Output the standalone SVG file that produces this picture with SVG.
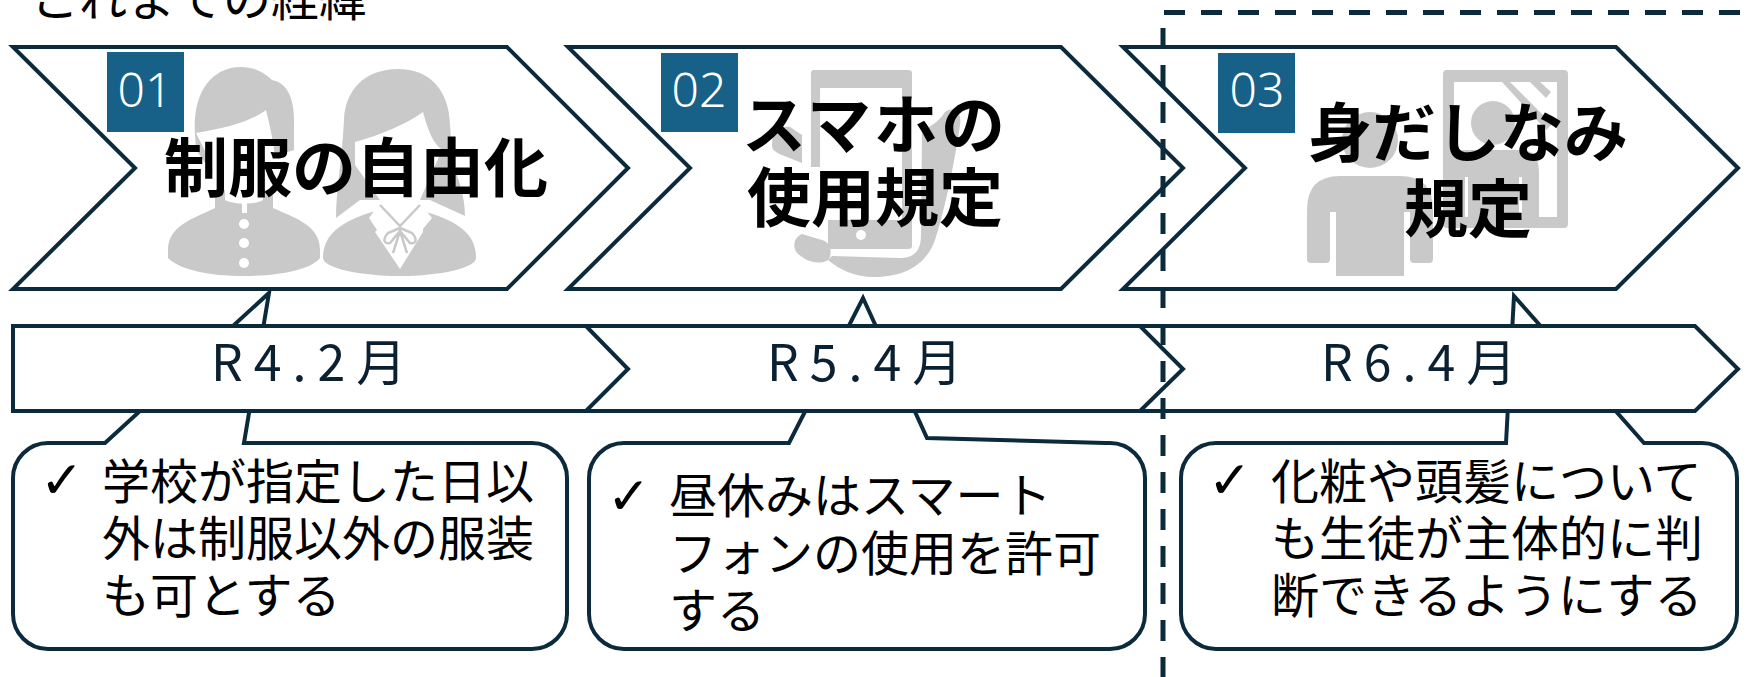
<svg xmlns="http://www.w3.org/2000/svg" width="1747" height="677" viewBox="0 0 1747 677">
<style>
.ln{fill:#fff;stroke:#0b2b3d;stroke-width:4;stroke-linejoin:miter}
.ic{fill:#c9c9c9}
.wh{fill:#fff}
.bd{fill:#176087}
.no{font-family:"Noto Sans","Liberation Sans",sans-serif;font-size:48px;fill:#fff;text-anchor:middle;font-weight:300}
.ti{font-family:"Noto Sans CJK JP",sans-serif;font-size:64px;font-weight:700;fill:#000;text-anchor:middle}
.br{font-family:"Noto Sans CJK JP",sans-serif;font-size:50px;fill:#0b2030;letter-spacing:11px}
.tx{font-family:"Noto Sans CJK JP",sans-serif;font-size:48px;fill:#000}
.ck{font-family:"DejaVu Sans",sans-serif;font-size:52px;fill:#000}
.hd{font-family:"Noto Sans CJK JP",sans-serif;font-size:48px;fill:#000}
.ds{fill:none;stroke:#0b2b3d;stroke-width:5;stroke-dasharray:21 16}
</style>
<text class="hd" x="31" y="16">これまでの経緯</text>
<g id="step1">
<polygon class="ln" points="13,47 507,47 628,168 507,289 13,289 135,168"/>
<g id="icon1">
<path class="ic" d="M195,135C192,95 210,67 241,67C256,67 266,74 272,80C288,83 295,100 294,125L294,150L214,175L196,150Z"/>
<path class="wh" d="M196,133C225,128 250,122 266,110C272,135 278,160 273,175L274,197L214,197L212,165Z"/>
<path class="ic" d="M215,190L215,208C195,218 168,225 168,250L168,258C180,270 210,276 243,276C280,276 310,270 320,258L320,250C320,225 295,218 273,208L273,190Z"/>
<path class="wh" d="M225,188L225,200C235,205 255,205 263,200L263,188Z"/>
<rect class="wh" x="242" y="203" width="5" height="10"/>
<circle class="wh" cx="244" cy="224" r="5"/><circle class="wh" cx="244" cy="243" r="5"/><circle class="wh" cx="244" cy="263" r="5"/>
<path class="ic" d="M344,120C345,90 365,69 398,69C430,69 449,90 450,125L452,155C455,175 465,190 465,216L430,200L360,200L336,218C336,190 342,160 344,120Z"/>
<path class="wh" d="M355,142C380,135 405,125 423,112C428,130 432,142 442,150L420,200L380,200L355,165Z"/>
<path class="ic" d="M323,258C323,235 340,222 372,212L426,212C460,222 476,235 476,258C476,268 440,276 400,276C360,276 323,268 323,258Z"/>
<path fill="none" stroke="#fff" stroke-width="2.5" d="M337,220C350,212 365,210 376,203M463,218C450,212 435,210 424,203"/>
<path class="wh" d="M380,203L420,203L432,218L423,229L423,232L400,269L375,232L377,230L369,218Z"/>
<path fill="none" stroke="#c9c9c9" stroke-width="2.5" d="M380,205L400,226L420,205M400,228L388,233C382,240 384,244 390,243L400,231L410,243C416,244 418,240 412,233L400,228M400,231L393,253M400,231L407,253"/>
</g>
<rect class="bd" x="107" y="52" width="77" height="80"/>
<text class="no" x="145" y="107">01</text>
<text class="ti" x="356" y="191">制服の自由化</text>
</g>
<g id="step2">
<polygon class="ln" points="568,47 1061,47 1183,168 1061,289 568,289 690,168"/>
<g id="icon2">
<path class="ic" d="M814,70H908Q912,70 912,73V246Q912,249 908,249H828V220H820V167H811V73Q811,70 814,70Z"/>
<rect class="wh" x="820" y="88" width="82" height="132"/>
<path class="ic" d="M772,145C772,130 780,126 790,127L802,135L802,163L782,155C775,152 772,150 772,145Z"/>
<path class="ic" d="M945,112C955,105 962,112 960,125C955,160 945,210 935,240C925,268 900,277 874,277C855,277 840,270 828,260L832,256L900,258C915,258 921,250 921,235L922,130C930,128 940,120 945,112Z"/>
<path class="ic" d="M802,234L825,241C832,246 832,255 828,260C822,264 812,263 805,259L798,254C792,248 793,238 802,234Z"/>
<circle class="wh" cx="861" cy="235" r="5"/>
</g>
<rect class="bd" x="661" y="53" width="77" height="79"/>
<text class="no" x="699" y="107">02</text>
<text class="ti" x="875" y="148" style="letter-spacing:3px">スマホの</text>
<text class="ti" x="875" y="221">使用規定</text>
</g>
<g id="step3">
<polygon class="ln" points="1123,47 1616,47 1738,168 1616,289 1123,289 1245,168"/>
<g id="icon3">
<path class="ic" fill-rule="evenodd" d="M1447,70H1564Q1568,70 1568,74V224Q1568,228 1564,228H1447Q1443,228 1443,224V74Q1443,70 1447,70ZM1454,82V217H1557V82Z"/>
<path class="ic" d="M1502,82H1510L1552,124L1546,130ZM1530,82H1540L1551,92L1546,98Z"/>
<circle class="ic" cx="1493" cy="123" r="22"/>
<path class="ic" d="M1465,150H1521Q1539,150 1539,172V217H1448V172Q1448,150 1465,150Z"/>
<rect class="wh" x="1465" y="177" width="3" height="40"/><rect class="wh" x="1519" y="177" width="3" height="40"/>
<circle class="ic" cx="1370" cy="140" r="28"/>
<path class="wh" d="M1305,174H1436V280H1305Z"/>
<path class="ic" d="M1340,176H1400Q1433,176 1433,210V259Q1433,263 1429,263H1414Q1410,263 1410,259V212H1404V276H1336V212H1330V259Q1330,263 1326,263H1311Q1307,263 1307,259V210Q1307,176 1340,176Z"/>
</g>
<rect class="bd" x="1218" y="53" width="77" height="80"/>
<text class="no" x="1257" y="107">03</text>
<text class="ti" x="1468" y="156">身だしなみ</text>
<text class="ti" x="1468" y="232">規定</text>
</g>
<g id="note1">
<path class="ln" d="M48,443H105L269,293L244,443H532A35,35 0 0 1 567,478V614A35,35 0 0 1 532,649H48A35,35 0 0 1 13,614V478A35,35 0 0 1 48,443Z"/>
<text class="ck" x="40" y="498">✓</text>
<text class="tx" x="102" y="499">学校が指定した日以</text>
<text class="tx" x="102" y="556">外は制服以外の服装</text>
<text class="tx" x="102" y="613">も可とする</text>
</g>
<g id="note2">
<path class="ln" d="M624,443H789L863,298L927,438L1105,443H1110A35,35 0 0 1 1145,478V614A35,35 0 0 1 1110,649H624A35,35 0 0 1 589,614V478A35,35 0 0 1 624,443Z"/>
<text class="ck" x="607" y="514">✓</text>
<text class="tx" x="669" y="513">昼休みはスマート</text>
<text class="tx" x="669" y="571">フォンの使用を許可</text>
<text class="tx" x="669" y="628">する</text>
</g>
<g id="note3">
<path class="ln" d="M1216,443H1506L1514,296L1644,443H1702A35,35 0 0 1 1737,478V614A35,35 0 0 1 1702,649H1216A35,35 0 0 1 1181,614V478A35,35 0 0 1 1216,443Z"/>
<text class="ck" x="1208" y="498">✓</text>
<text class="tx" x="1271" y="499">化粧や頭髪について</text>
<text class="tx" x="1271" y="556">も生徒が主体的に判</text>
<text class="tx" x="1271" y="613">断できるようにする</text>
</g>
<g id="date3">
<polygon class="ln" points="1122,326 1695,326 1738,369 1695,411 1122,411"/>
<text class="br" x="1321" y="381">R6.4月</text>
</g>
<g id="date2">
<polygon class="ln" points="566,326 1140,326 1183,369 1140,411 566,411"/>
<text class="br" x="767" y="381">R5.4月</text>
</g>
<g id="date1">
<polygon class="ln" points="13,326 586,326 628,369 586,411 13,411"/>
<text class="br" x="211" y="381">R4.2月</text>
</g>
<g id="connectors">
<line class="ds" x1="1164" y1="12.5" x2="1747" y2="12.5"/>
<line class="ds" x1="1163" y1="28" x2="1163" y2="677"/>
</g>
</svg>
